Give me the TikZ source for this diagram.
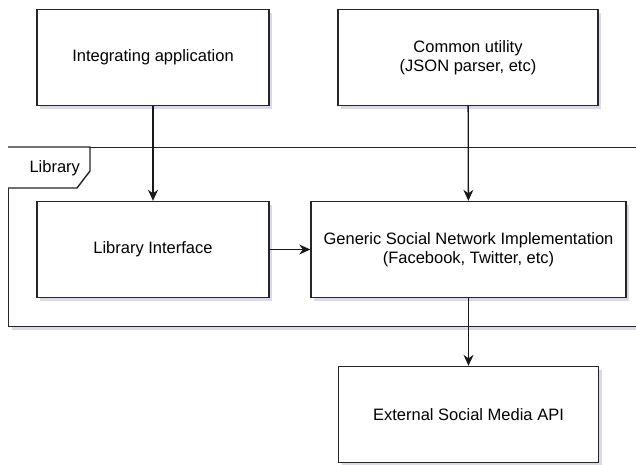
\documentclass[tikz,border=0pt]{standalone}
\usepackage{fontspec}
\setmainfont{Liberation Sans}
\usetikzlibrary{positioning,arrows.meta,shadows}

\begin{document}
\begin{tikzpicture}[x=1pt, y=-1pt,
    block/.style={rectangle, draw=black!85, line width=1.4pt, fill=white, align=center, inner sep=0pt, minimum height=96pt,
        font=\fontsize{16.5}{19.5}\selectfont,
        drop shadow={shadow xshift=3pt, shadow yshift=-3pt, fill=black!60!blue, opacity=.15}},
    link/.style={-{Stealth[length=11pt, width=10pt, inset=3.5pt]}, line width=1.3pt, black!90}]
        \useasboundingbox (0,0) rectangle (636,464);
        \clip (0,0) rectangle (636,464);

        %% Library frame
        \node[block, anchor=north west, minimum width=700pt, minimum height=179pt] (lib) at (8,147) {};
        \draw[line width=1.4pt, draw=black!85, fill=white] (lib.north west) -- ++(82,0) -- ++(0,24) -- ++(-13,17) -- ++(-69,0);
        \node[anchor=west, font=\fontsize{16.5}{19.5}\selectfont] (libname) at (26,168) {Library};

        %% Top row
        \node[block, minimum width=232pt] (app) at (153,57.5) {Integrating application};
        \node[block, minimum width=260pt, right=67.6pt of app] (util) {Common utility\\(JSON parser, etc)};

        %% Library content
        \node[block, minimum width=232pt, below=94.6pt of app] (iface) {Library Interface};
        \node[block, minimum width=315pt, right=40.6pt of iface] (impl) {Generic Social Network Implementation\\(Facebook, Twitter, etc)};

        %% Outside
        \node[block, minimum width=260pt, below=67.6pt of impl] (api) {External Social Media API};

        \draw[link] (app) -- (iface);
        \draw[link] (util) -- (impl);
        \draw[link] (iface) -- (impl);
        \draw[link] (impl) -- (api);
\end{tikzpicture}
\end{document}
